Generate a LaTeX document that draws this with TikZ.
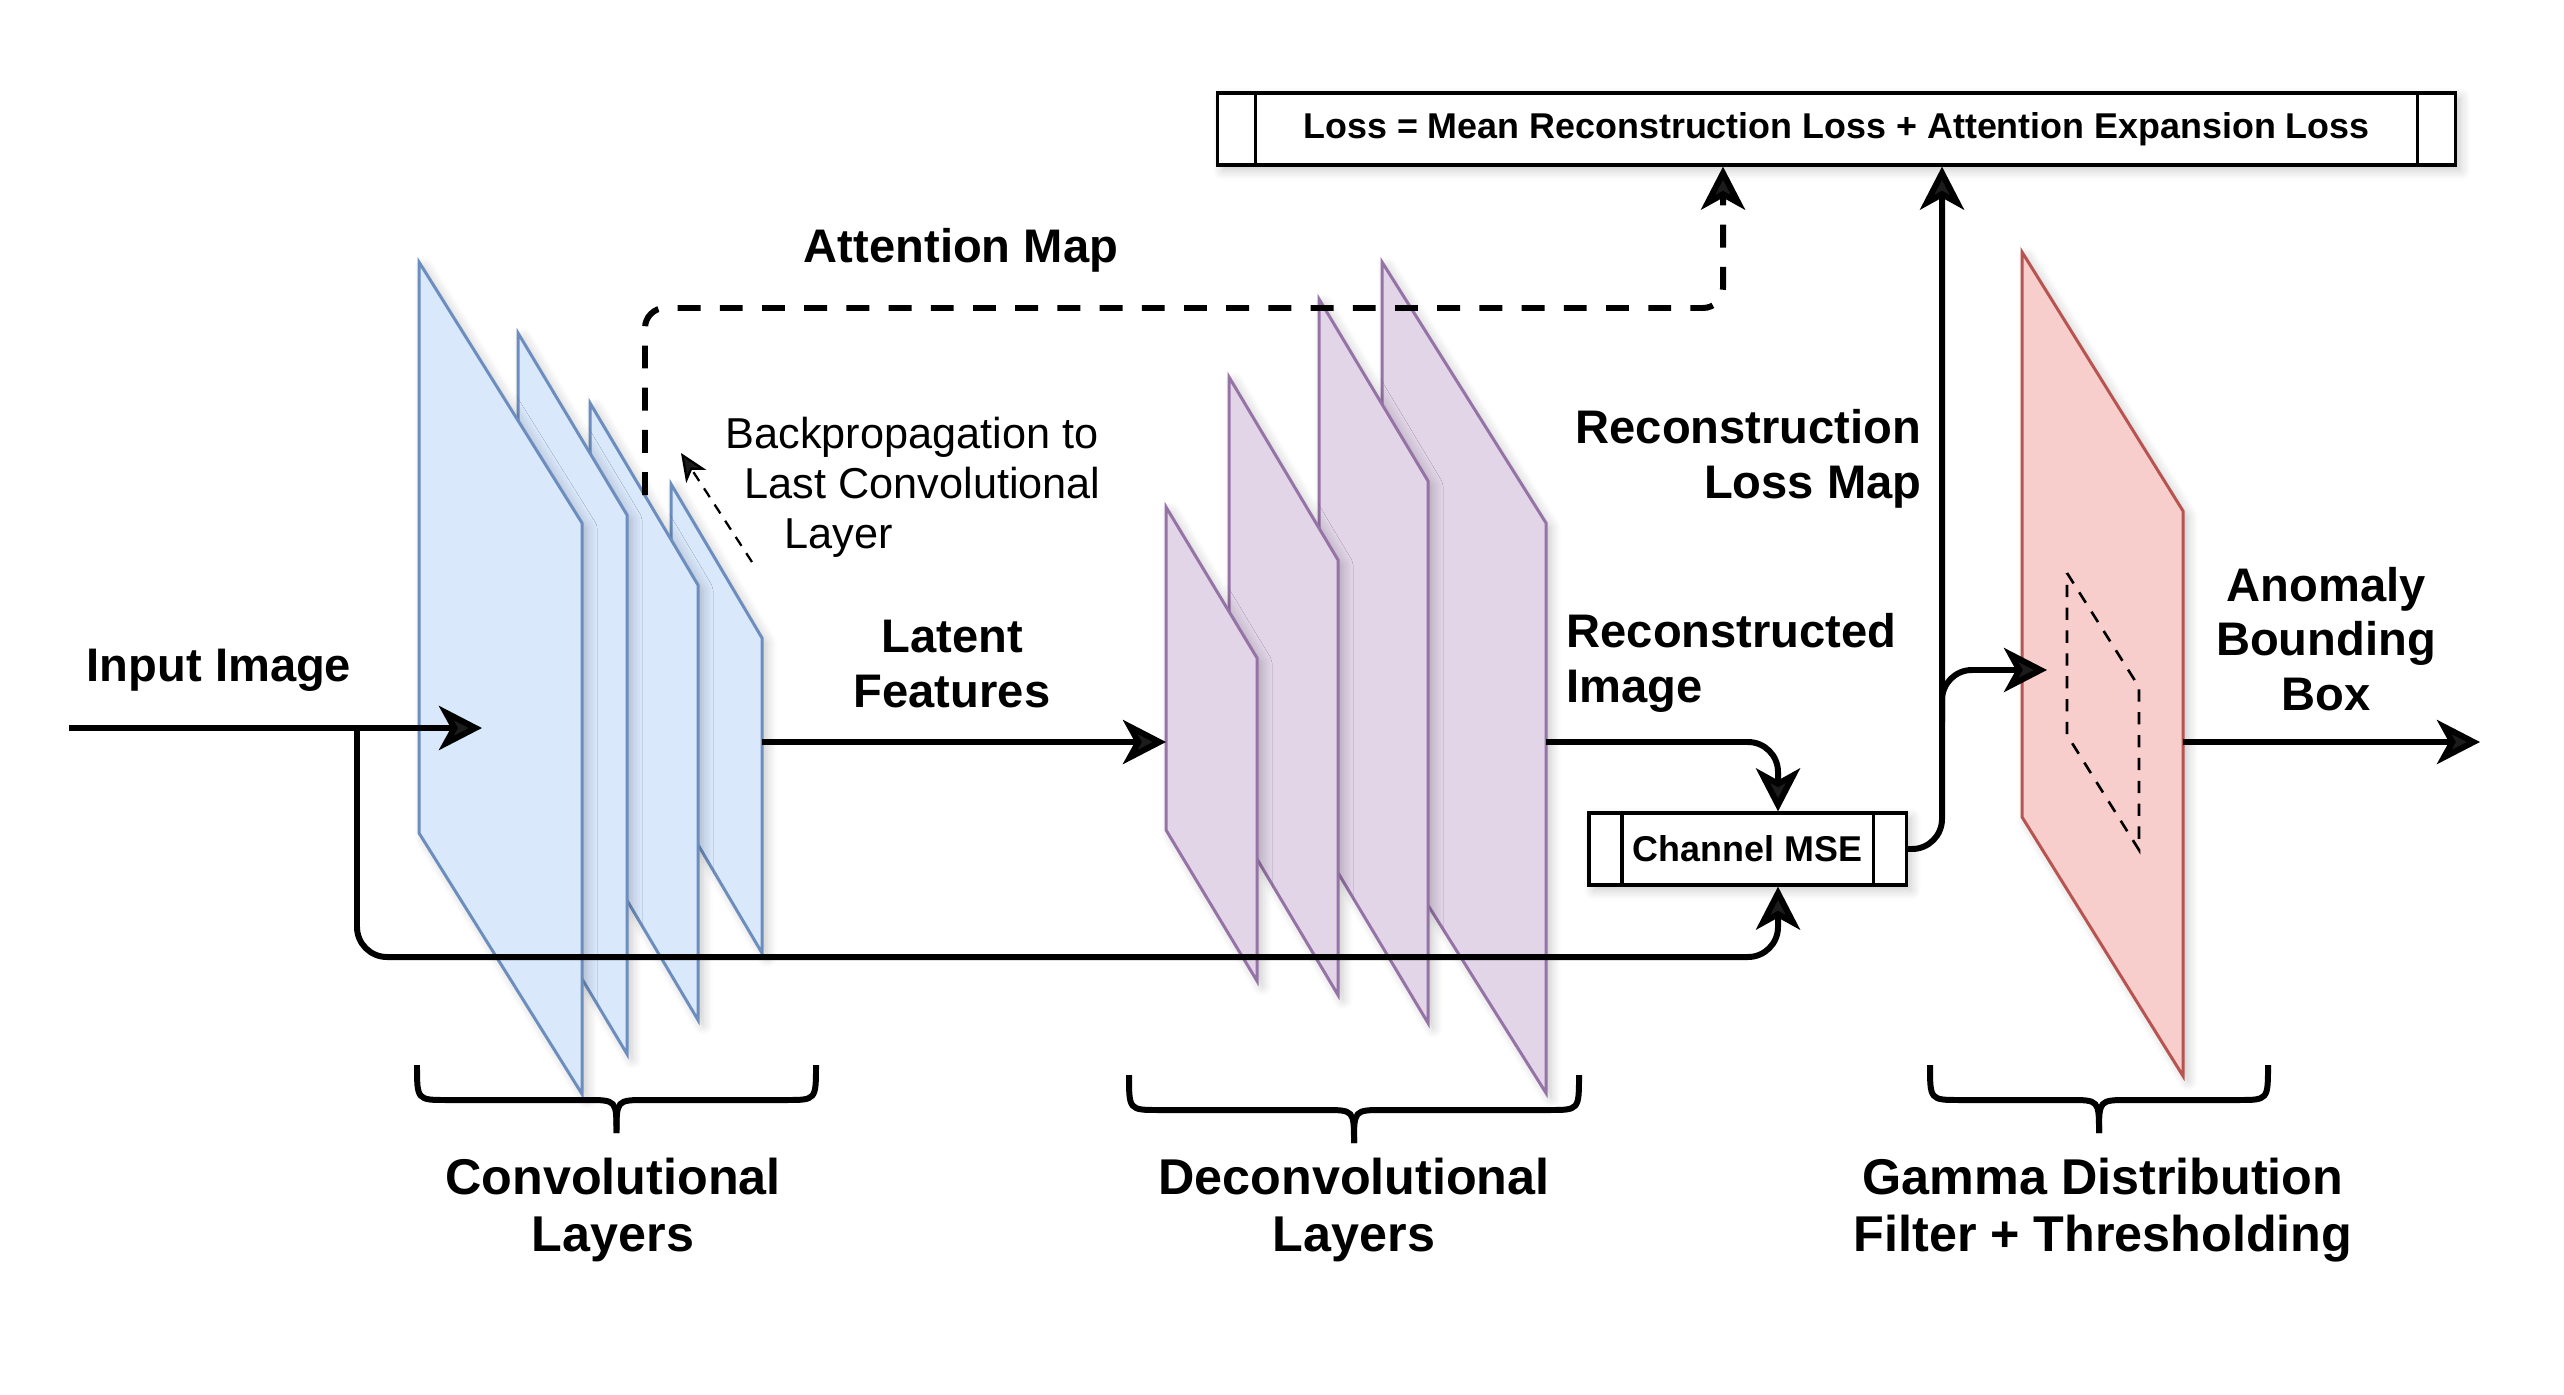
\documentclass[tikz,border=0pt]{standalone}
\usepackage{fontspec}
\setmainfont{Liberation Sans}
\usetikzlibrary{arrows.meta, shadows.blur}

\definecolor{convfill}{HTML}{DAE8FC}
\definecolor{convline}{HTML}{6C8EBF}
\definecolor{deconvfill}{HTML}{E1D5E7}
\definecolor{deconvline}{HTML}{9673A6}
\definecolor{gammafill}{HTML}{F8CECC}
\definecolor{gammaline}{HTML}{B85450}

\begin{document}
\begin{tikzpicture}[
    x=0.01cm, y=-0.01cm, % one unit = one pixel of the sketch
    txt/.style={font=\fontsize{13.4}{15.5}\selectfont\bfseries, align=center, inner sep=0pt}, % Style for big labels
    group/.style={txt, font=\fontsize{14.3}{16.2}\selectfont\bfseries}, % Style for labels under the braces
    soft/.style={blur shadow={shadow blur steps=6, shadow xshift=0.05cm, shadow yshift=-0.05cm, shadow blur radius=0.1cm, shadow opacity=22}},
    conv/.style={fill=convfill, draw=convline, line width=0.85pt, soft},
    deconv/.style={fill=deconvfill, draw=deconvline, line width=0.85pt, soft},
    gamma/.style={fill=gammafill, draw=gammaline, line width=0.85pt, soft},
    flow/.style={line width=1.7pt, -{Stealth[length=0.43cm, width=0.44cm, inset=0.12cm]}},
    attn/.style={flow, dash pattern=on 6.5pt off 5.5pt, rounded corners=0.2cm},
    backprop/.style={line width=0.65pt, dash pattern=on 3pt off 2.5pt, -{Stealth[length=0.28cm, width=0.24cm, inset=0.08cm]}},
    bracestyle/.style={line width=1.7pt},
    procbox/.style={draw, line width=0.9pt, fill=white, soft, inner sep=0pt,
      font=\fontsize{10.2}{12}\selectfont\bfseries,
      path picture={
        \draw[line width=0.9pt] ([xshift=#1]path picture bounding box.north west) -- ([xshift=#1]path picture bounding box.south west);
        \draw[line width=0.9pt] ([xshift=-#1]path picture bounding box.north east) -- ([xshift=-#1]path picture bounding box.south east);
      }}
  ]
    \useasboundingbox (0,0) rectangle (2564,1394);

    % Layers, back to front
    \foreach \x/\w/\a/\b/\c in {671/91/484/638/953, 590/108/403/585/1020, 518/109/333/515/1054, 419/163/262/523/1094}
      \draw[conv] (\x,\a) -- (\x+\w,\b) -- (\x+\w,\c) -- (\x,\a+\c-\b) -- cycle;
    \foreach \x/\w/\a/\b/\c in {1382/164/262/523/1093, 1319/109/299/481/1023, 1229/109/377/560/995, 1166/91/507/658/981}
      \draw[deconv] (\x,\a) -- (\x+\w,\b) -- (\x+\w,\c) -- (\x,\a+\c-\b) -- cycle;
    \draw[gamma] (2022,252) -- (2183,511) -- (2183,1076) -- (2022,817) -- cycle;
    \draw[line width=0.75pt, dash pattern=on 3.5pt off 3pt] (2067,573) -- (2139,687) -- (2139,850) -- (2067,735) -- cycle;

    % Define nodes
    \node[procbox=0.38cm, minimum width=12.37cm, minimum height=0.72cm] (loss) at (1836.5,129) {Loss = Mean Reconstruction Loss + Attention Expansion Loss};
    \node[procbox=0.33cm, minimum width=3.17cm, minimum height=0.72cm] (mse) at (1747.5,849) {Channel MSE};

    \node[txt] (inputLbl) at (219,670) {Input Image};
    \node[txt] (latentLbl) at (952,664) {Latent\\Features};
    \node[txt] (attnLbl) at (961,250) {Attention Map};
    \node[txt, align=right, anchor=east] (recLossLbl) at (1922,459) {Reconstruction\\Loss Map};
    \node[txt, align=left, anchor=west] (recImgLbl) at (1566,663) {Reconstructed\\Image};
    \node[txt] (bboxLbl) at (2326,639) {Anomaly\\Bounding\\Box};
    \node[group] (convLbl) at (613,1210) {Convolutional\\Layers};
    \node[group] (deconvLbl) at (1354,1210) {Deconvolutional\\Layers};
    \node[group] (gammaLbl) at (2103,1210) {Gamma Distribution\\Filter + Thresholding};
    \node[inner sep=0pt, align=left, anchor=west, font=\fontsize{12.3}{14.2}\selectfont] (bpLbl) at (725,487)
      {Backpropagation to\\\hspace*{0.19cm}Last Convolutional\\\hspace*{0.59cm}Layer};

    % Points on the layers
    \coordinate (inStart) at (69,728);
    \coordinate (inTip) at (482,728);
    \coordinate (skip) at (357,728);
    \coordinate (conv4E) at (762,742);
    \coordinate (conv3T) at (645,495);
    \coordinate (deconv1W) at (1166,742);
    \coordinate (deconv4E) at (1546,742);
    \coordinate (mseX) at (1778,0);
    \coordinate (lossX) at (1942,0);
    \coordinate (attnX) at (1723,0);
    \coordinate (attnCorner) at (1723,308);
    \coordinate (split) at (1942,722);
    \coordinate (gammaIn) at (2047,670);
    \coordinate (gammaE) at (2183,742);
    \coordinate (outTip) at (2480,742);
    \coordinate (bpStart) at (752,562);
    \coordinate (bpTip) at (681,453);

    % Draw arrows
    \draw[flow] (inStart) -- (inTip);
    \draw[flow, rounded corners=0.3cm] (skip) |- (1778,957) -- (mse.south -| mseX);
    \draw[flow] (conv4E) -- (deconv1W);
    \draw[flow, rounded corners=0.3cm] (deconv4E) -| (mse.north -| mseX);
    \draw[flow, rounded corners=0.3cm] (mse.east) -| (loss.south -| lossX);
    \draw[flow, rounded corners=0.3cm] (split) |- (gammaIn);
    \draw[flow] (gammaE) -- (outTip);
    \draw[attn] (conv3T) |- (attnCorner) -- (loss.south -| attnX);
    \draw[backprop] (bpStart) -- (bpTip);

    % Braces under the layer groups
    \foreach \l/\r/\t in {417/816/1065, 1129/1579/1075, 1930/2268/1065} {
      \pgfmathsetmacro\c{(\l+\r)/2}
      \draw[bracestyle] (\l,\t) .. controls (\l,\t+35) .. (\l+30,\t+35) -- (\c-30,\t+35) .. controls (\c,\t+35) .. (\c,\t+68);
      \draw[bracestyle] (\r,\t) .. controls (\r,\t+35) .. (\r-30,\t+35) -- (\c+30,\t+35) .. controls (\c,\t+35) .. (\c,\t+68);
    }
\end{tikzpicture}
\end{document}
